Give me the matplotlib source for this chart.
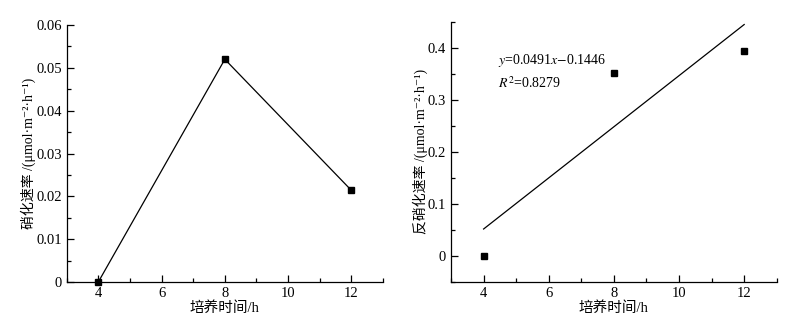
import matplotlib
matplotlib.use('Agg')
import matplotlib.pyplot as plt
from matplotlib.ticker import MultipleLocator

plt.rcParams['font.family'] = ['Liberation Serif', 'Noto Sans CJK SC', 'DejaVu Serif']
plt.rcParams['mathtext.fontset'] = 'stix'

# data
hours = [4, 8, 12]
nitrif = [0.0, 0.052, 0.0214]
denitrif = [0.0, 0.352, 0.393]
fit_slope = 0.0491
fit_icpt = -0.1446

x_ticks = [4, 6, 8, 10, 12]
y1_ticks = [0, 0.01, 0.02, 0.03, 0.04, 0.05, 0.06]
y1_labels = ['0', '0.01', '0.02', '0.03', '0.04', '0.05', '0.06']
y2_ticks = [0, 0.1, 0.2, 0.3, 0.4]
y2_labels = ['0', '0.1', '0.2', '0.3', '0.4']

xlabel = '培养时间/h'
y1_label = '硝化速率 /(μmol·m⁻²·h⁻¹)'
y2_label = '反硝化速率 /(μmol·m⁻²·h⁻¹)'

fig = plt.figure(figsize=(7.91, 3.32), dpi=100)
ax1 = fig.add_axes([0.0843, 0.1506, 0.3999, 0.774])
ax2 = fig.add_axes([0.5702, 0.1506, 0.4118, 0.784])


def style(ax):
    for s in ('top', 'right'):
        ax.spines[s].set_visible(False)
    ax.spines['left'].set_linewidth(0.9)
    ax.spines['bottom'].set_linewidth(0.9)
    ax.tick_params(which='both', direction='in', labelsize=10.5, width=0.9)
    ax.tick_params(which='major', length=5)
    ax.tick_params(which='minor', length=3)
    ax.set_xlim(3, 13)
    ax.set_xticks(x_ticks)
    ax.xaxis.set_minor_locator(MultipleLocator(1))
    ax.set_xlabel(xlabel, fontsize=10.5, labelpad=1)


# left: nitrification rate
ax1.plot(hours, nitrif, color='black', lw=0.9, marker='s', ms=4, clip_on=False)
style(ax1)
ax1.set_ylim(0, 0.06)
ax1.set_yticks(y1_ticks)
ax1.set_yticklabels(y1_labels)
ax1.yaxis.set_minor_locator(MultipleLocator(0.005))
ax1.set_ylabel(y1_label, fontsize=10, labelpad=0)

# right: denitrification rate with linear fit
ax2.plot(hours, denitrif, ls='none', color='black', marker='s', ms=4)
fit_x = [hours[0], hours[-1]]
fit_y = [fit_slope * v + fit_icpt for v in fit_x]
ax2.plot(fit_x, fit_y, color='black', lw=0.9)
style(ax2)
ax2.set_ylim(-0.05, 0.45)
ax2.set_yticks(y2_ticks)
ax2.set_yticklabels(y2_labels)
ax2.yaxis.set_minor_locator(MultipleLocator(0.05))
ax2.set_ylabel(y2_label, fontsize=10, labelpad=0)

ax2.text(4.45, 0.376, r'$y$=0.0491$x$$-$0.1446', fontsize=10, va='center')
ax2.text(4.45, 0.332, r'$R^2$=0.8279', fontsize=10, va='center')

fig.savefig('out.png', dpi=100)
